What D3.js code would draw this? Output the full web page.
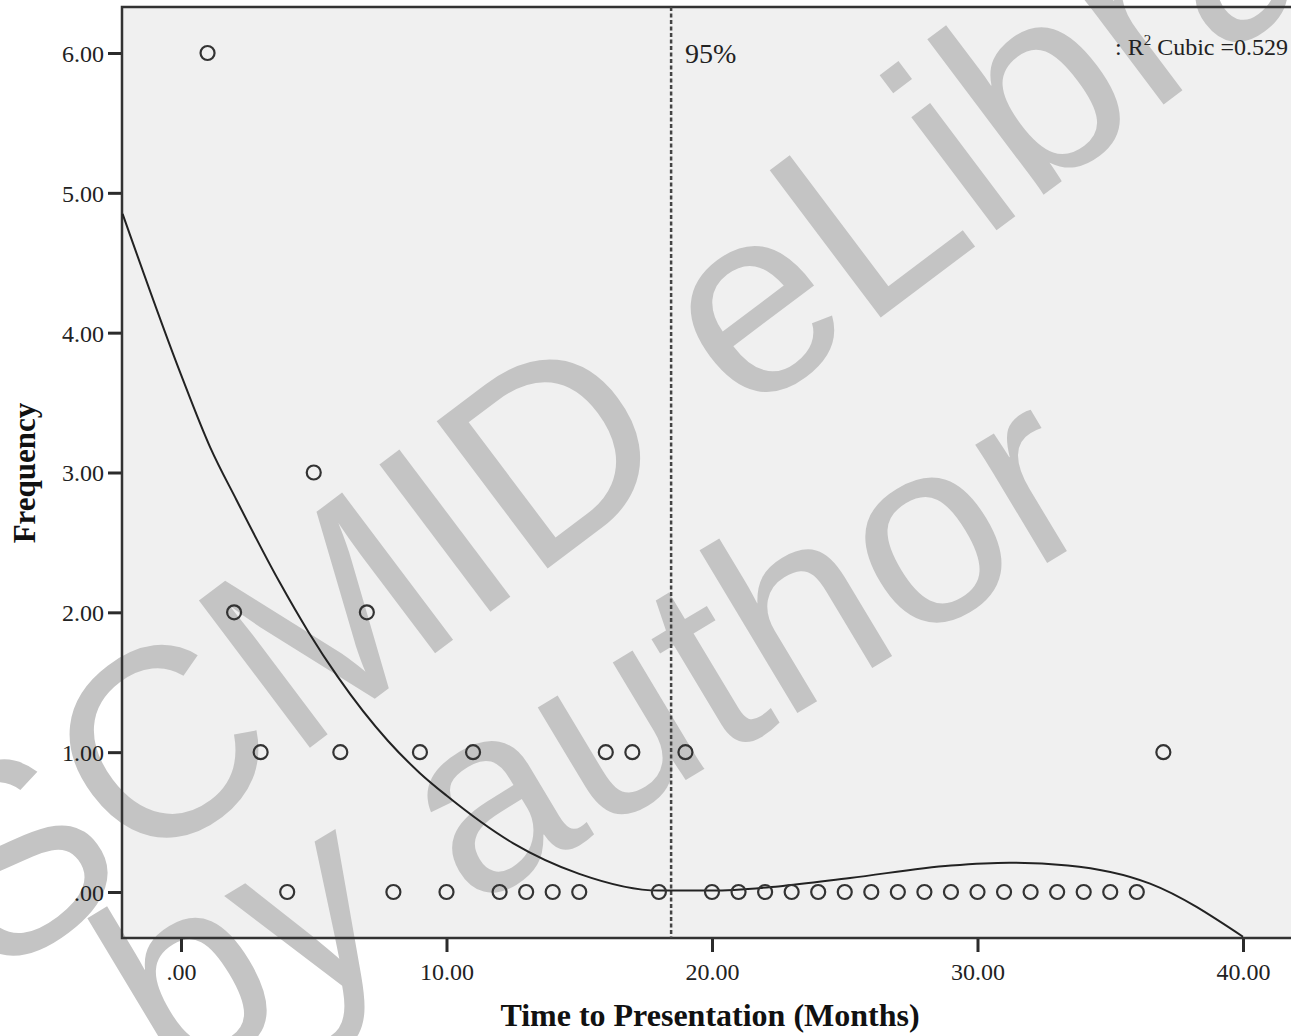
<!DOCTYPE html>
<html>
<head>
<meta charset="utf-8">
<script src="https://cdn.jsdelivr.net/npm/d3@7"></script>
<style>
  body { margin: 0; background: #fff; }
  svg { display: block; }
</style>
</head>
<body>
<div id="chart"></div>
<script>
// データ
const months = [1,2,3,4,5,6,7,8,9,10,11,12,13,14,15,16,17,18,19,20,21,22,23,24,25,26,27,28,29,30,31,32,33,34,35,36,37];
const freq   = [6,2,1,0,3,1,2,0,1,0,1,0,0,0,0,1,1,0,1,0,0,0,0,0,0,0,0,0,0,0,0,0,0,0,0,0,1];
// cubic fit line
const fitX = [-2.2, 0, 1.1, 2.1, 3.7, 4.8, 5.9, 7.8, 9, 10, 12.5, 15, 18, 20, 22.5, 25.2, 29, 31.2, 33.4, 36.5, 40];
const fitY = [4.85, 3.70, 3.18, 2.80, 2.22, 1.86, 1.54, 1.08, 0.85, 0.69, 0.35, 0.13, 0.01, 0.01, 0.04, 0.10, 0.19, 0.21, 0.19, 0.06, -0.32];
const xTicks = [0, 10, 20, 30, 40];
const xTickLabels = [".00", "10.00", "20.00", "30.00", "40.00"];
const yTicks = [0, 1, 2, 3, 4, 5, 6];
const yTickLabels = [".00", "1.00", "2.00", "3.00", "4.00", "5.00", "6.00"];
const refLine = 18.46; // 95%
const r2Text = "0.529";

const width = 1291;
const height = 1036;
const frame = { "left": 122, "top": 7, "right": 1300, "bottom": 938 };
const serif = "'Liberation Serif', 'Times New Roman', serif";
const ink = "#2b2b2b";

const svg = d3.select("#chart").append("svg").attr("width", width).attr("height", height);

// 軸スケールの設定
const xScale = d3.scaleLinear().domain([-2.222, 40]).range([122, 1243]);
const yScale = d3.scaleLinear().domain([0, 6]).range([892, 53]);

// plot background
svg.append("rect")
  .attr("x", frame.left).attr("y", frame.top)
  .attr("width", frame.right - frame.left).attr("height", frame.bottom - frame.top)
  .attr("fill", "#f0f0f0");

// watermark
const wm = svg.append("g").attr("fill", "#c4c4c4")
  .attr("font-family", "'Liberation Sans', Arial, sans-serif");
wm.append("text")
  .attr("transform", "translate(-5,985) rotate(-37)")
  .attr("font-size", 268)
  .text("SCMID eLibrary");
wm.append("text")
  .attr("transform", "translate(170,1090) rotate(-31)")
  .attr("font-size", 262)
  .text("by author");

// axes
const axisY = d3.axisLeft(yScale).tickValues(yTicks).tickSize(14).tickPadding(4)
  .tickFormat((d, i) => yTickLabels[i]);
const axisX = d3.axisBottom(xScale).tickValues(xTicks).tickSize(14).tickPadding(11)
  .tickFormat((d, i) => xTickLabels[i]);

const gy = svg.append("g").attr("transform", "translate(" + frame.left + ",0)").call(axisY);
const gx = svg.append("g").attr("transform", "translate(0," + frame.bottom + ")").call(axisX);
[gx, gy].forEach(g => {
  g.select(".domain").remove();
  g.selectAll("line").attr("stroke", ink).attr("stroke-width", 3);
  g.selectAll("text").attr("fill", "#222").attr("font-family", serif).attr("font-size", 24);
});
gy.selectAll("text").attr("dy", "0.35em");

// frame
svg.append("rect")
  .attr("x", frame.left).attr("y", frame.top)
  .attr("width", frame.right - frame.left).attr("height", frame.bottom - frame.top)
  .attr("fill", "none").attr("stroke", "#333").attr("stroke-width", 2.5);

// 95% line
svg.append("line")
  .attr("x1", xScale(refLine)).attr("x2", xScale(refLine))
  .attr("y1", frame.top).attr("y2", frame.bottom)
  .attr("stroke", "#444").attr("stroke-width", 2.5)
  .attr("stroke-dasharray", "4,2.5");
svg.append("text")
  .attr("x", xScale(refLine) + 14).attr("y", 63)
  .attr("font-family", serif).attr("font-size", 28).attr("fill", "#222")
  .text("95%");

// R2 label
const r2 = svg.append("text")
  .attr("x", 1115).attr("y", 55)
  .attr("font-family", serif).attr("font-size", 24).attr("fill", "#222");
r2.append("tspan").text(": R");
r2.append("tspan").attr("dy", -10).attr("font-size", 15).text("2");
r2.append("tspan").attr("dy", 10).text(" Cubic =" + r2Text);

// fit line
const fit = fitX.map((x, i) => [x, fitY[i]]);
svg.append("path")
  .datum(fit)
  .attr("fill", "none").attr("stroke", "#222").attr("stroke-width", 2)
  .attr("d", d3.line()
    .x(d => xScale(d[0]))
    .y(d => yScale(d[1]))
    .curve(d3.curveMonotoneX));

// プロットの表示
svg.append("g")
  .selectAll("circle")
  .data(months)
  .enter()
  .append("circle")
  .attr("cx", d => xScale(d))
  .attr("cy", (d, i) => yScale(freq[i]))
  .attr("r", 7)
  .attr("fill", "none")
  .attr("stroke", "#333")
  .attr("stroke-width", 2.2);

// axis titles
svg.append("text")
  .attr("x", 710).attr("y", 1026)
  .attr("text-anchor", "middle")
  .attr("font-family", serif).attr("font-weight", "bold").attr("font-size", 32).attr("fill", "#111")
  .text("Time to Presentation (Months)");
svg.append("text")
  .attr("transform", "translate(35,473) rotate(-90)")
  .attr("text-anchor", "middle")
  .attr("font-family", serif).attr("font-weight", "bold").attr("font-size", 31).attr("fill", "#111")
  .text("Frequency");
</script>
</body>
</html>
